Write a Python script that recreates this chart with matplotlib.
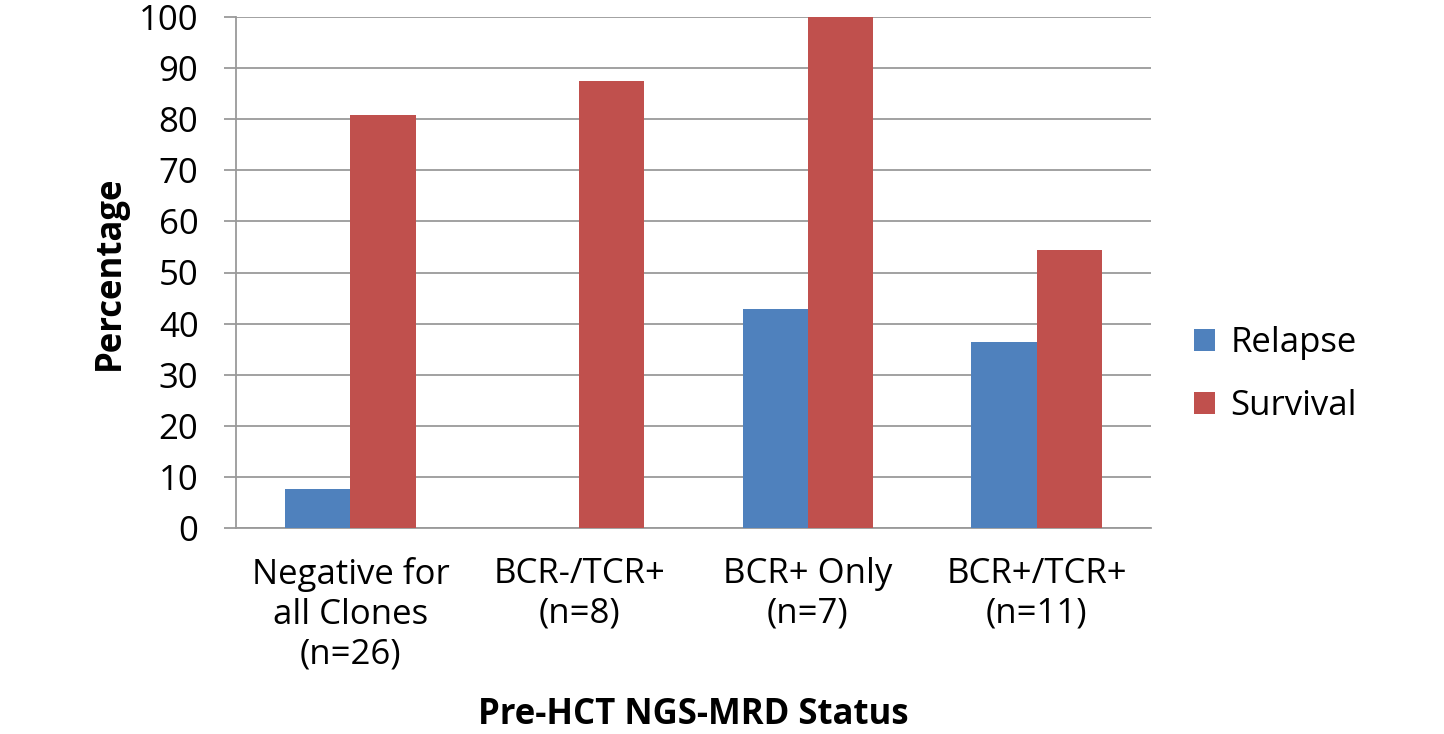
import matplotlib
matplotlib.use("Agg")
import matplotlib.pyplot as plt
import numpy as np

categories = ["Negative for\nall Clones\n(n=26)", "BCR-/TCR+\n(n=8)", "BCR+ Only\n(n=7)", "BCR+/TCR+\n(n=11)"]
relapse = [7.7, 0.0, 42.9, 36.4]
survival = [80.8, 87.5, 100.0, 54.5]
series_names = ["Relapse", "Survival"]
yticks = [0, 10, 20, 30, 40, 50, 60, 70, 80, 90, 100]

plt.rcParams['font.family'] = ['Open Sans', 'DejaVu Sans']

fig = plt.figure(figsize=(14.44, 7.34), dpi=100)
ax = fig.add_axes([236/1444, 1-528/734, (1151-236)/1444, (528-17)/734])

x = np.arange(len(categories))
w = 0.285
ax.bar(x - w/2, relapse, w, color="#4F81BD", label=series_names[0], zorder=3)
ax.bar(x + w/2, survival, w, color="#C0504D", label=series_names[1], zorder=3)

ax.set_xlim(-0.5, len(categories) - 0.5)
ax.set_ylim(0, 100)
ax.set_yticks(yticks)
ax.set_yticklabels([str(t) for t in yticks], fontsize=25)
ax.set_xticks(x)
ax.set_xticklabels(categories, fontsize=25, linespacing=1.22)
ax.tick_params(axis='x', length=0, pad=21)
ax.tick_params(axis='y', length=9, width=1.3, color="#9a9a9a", pad=18)
ax.grid(axis='y', color="#9a9a9a", linewidth=1.3, zorder=0)
for s in ["top", "right"]:
    ax.spines[s].set_visible(False)
for s in ["left", "bottom"]:
    ax.spines[s].set_color("#9a9a9a")
    ax.spines[s].set_linewidth(1.3)

ax.set_ylabel("Percentage", fontsize=25, fontweight="bold", labelpad=8)
ax.set_xlabel("Pre-HCT NGS-MRD Status", fontsize=25, fontweight="bold", labelpad=18)

leg = ax.legend(loc="center left", bbox_to_anchor=(1.013, 0.30), frameon=False, fontsize=25,
                handlelength=0.6, handleheight=0.6, handletextpad=0.45, labelspacing=0.82)

fig.savefig("out.png", dpi=100)
